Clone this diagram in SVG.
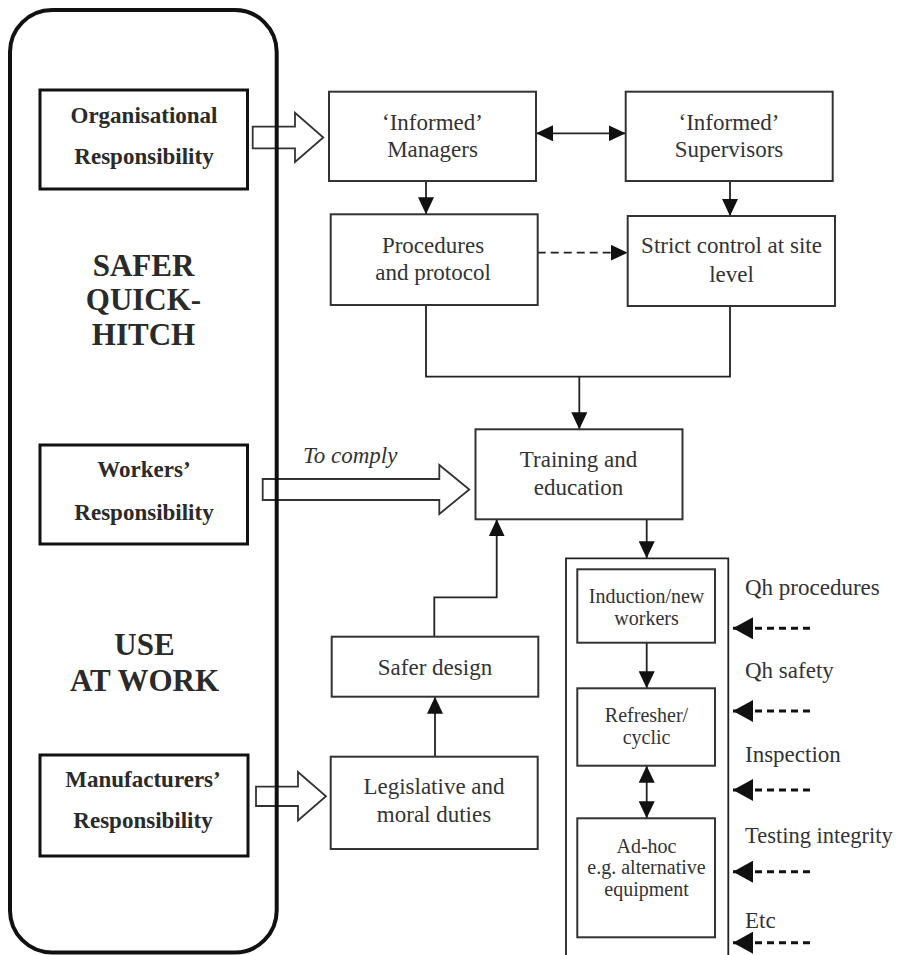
<svg xmlns="http://www.w3.org/2000/svg" width="905" height="955" viewBox="0 0 905 955">
<defs>
<style>
.box{fill:#fff;stroke:#333;stroke-width:2}
.lbox{fill:#fff;stroke:#111;stroke-width:3}
.t{font-family:"Liberation Serif","Times New Roman",serif;font-size:23px;fill:#333;text-anchor:middle}
.b{font-weight:bold;fill:#2a2a2a}
.big{font-size:31px}
.s{font-size:20px}
.r{text-anchor:start}
.i{font-style:italic;text-anchor:start}
.ln{fill:none;stroke:#222;stroke-width:1.8}
.dash{stroke-dasharray:8 5}
.dash2{fill:none;stroke:#111;stroke-width:3;stroke-dasharray:7 5}
.blk{fill:#fff;stroke:#333;stroke-width:1.8;stroke-linejoin:miter}
</style>
<marker id="ah" markerUnits="userSpaceOnUse" markerWidth="17" markerHeight="16" refX="17" refY="8" orient="auto-start-reverse">
<path d="M0,0 L17,8 L0,16 z" fill="#111"/>
</marker>
<marker id="ahb" markerUnits="userSpaceOnUse" markerWidth="20" markerHeight="22" refX="20" refY="11" orient="auto">
<path d="M0,0 L20,11 L0,22 z" fill="#111"/>
</marker>
</defs>
<rect width="905" height="955" fill="#fff"/>

<g id="connectors">
<path class="blk" d="M252.7,126.7 H295 V112.7 L323.3,137.5 L295,162 V148.3 H252.7 Z"/>
<path class="blk" d="M262.7,479 H439.3 V465 L469.3,489.5 L439.3,514 V500 H262.7 Z"/>
<path class="blk" d="M256,786.7 H298 V772 L326,796.3 L298,820.5 V806 H256 Z"/>
<line class="ln" x1="536" y1="133.3" x2="625.7" y2="133.3" marker-start="url(#ah)" marker-end="url(#ah)"/>
<line class="ln" x1="426" y1="181" x2="426" y2="214.3" marker-end="url(#ah)"/>
<line class="ln" x1="730" y1="181" x2="730" y2="216" marker-end="url(#ah)"/>
<line class="ln dash" x1="537.7" y1="252.7" x2="627.7" y2="252.7" marker-end="url(#ah)"/>
<path class="ln" d="M426,305 V376.7 H730 V306"/>
<line class="ln" x1="579.3" y1="376.7" x2="579.3" y2="429.3" marker-end="url(#ah)"/>
<line class="ln" x1="646.7" y1="519.3" x2="646.7" y2="558.3" marker-end="url(#ah)"/>
<path class="ln" d="M434.3,636.7 V597.3 H496.7 V519.3" marker-end="url(#ah)"/>
<line class="ln" x1="435" y1="756.7" x2="435" y2="696.7" marker-end="url(#ah)"/>
<line class="ln" x1="646.7" y1="642.7" x2="646.7" y2="688.3" marker-end="url(#ah)"/>
<line class="ln" x1="646.7" y1="765.7" x2="646.7" y2="818.3" marker-start="url(#ah)" marker-end="url(#ah)"/>
<line class="dash2" x1="810" y1="628.3" x2="733" y2="628.3" marker-end="url(#ahb)"/>
<line class="dash2" x1="810" y1="711" x2="733" y2="711" marker-end="url(#ahb)"/>
<line class="dash2" x1="810" y1="790" x2="733" y2="790" marker-end="url(#ahb)"/>
<line class="dash2" x1="810" y1="871.7" x2="733" y2="871.7" marker-end="url(#ahb)"/>
<line class="dash2" x1="810" y1="942.7" x2="733" y2="942.7" marker-end="url(#ahb)"/>
</g>

<g id="frame">
<rect x="10" y="10" width="266.7" height="942.5" rx="42" ry="42" fill="none" stroke="#111" stroke-width="4"/>
<text class="t b big" x="143.5" y="276">SAFER</text>
<text class="t b big" x="143.5" y="310">QUICK-</text>
<text class="t b big" x="143.5" y="345">HITCH</text>
<text class="t b big" x="144.5" y="655">USE</text>
<text class="t b big" x="144.5" y="690.7">AT WORK</text>
</g>

<g id="org">
<rect class="lbox" x="40" y="90" width="207.5" height="99"/>
<text class="t b" x="144" y="123">Organisational</text>
<text class="t b" x="144" y="164">Responsibility</text>
</g>
<g id="workers">
<rect class="lbox" x="40" y="445" width="207.5" height="99"/>
<text class="t b" x="144" y="477">Workers’</text>
<text class="t b" x="144" y="520">Responsibility</text>
</g>
<g id="manufacturers">
<rect class="lbox" x="40" y="755" width="208" height="101"/>
<text class="t b" x="143" y="787.3">Manufacturers’</text>
<text class="t b" x="143" y="828">Responsibility</text>
</g>

<g id="managers">
<rect class="box" x="329" y="91.7" width="207" height="89.3"/>
<text class="t" x="432.5" y="130">‘Informed’</text>
<text class="t" x="432.5" y="157">Managers</text>
</g>
<g id="supervisors">
<rect class="box" x="625.7" y="91.7" width="207" height="89.3"/>
<text class="t" x="729" y="130">‘Informed’</text>
<text class="t" x="729" y="157">Supervisors</text>
</g>
<g id="procedures">
<rect class="box" x="330.7" y="214.3" width="207" height="90.7"/>
<text class="t" x="433" y="252.7">Procedures</text>
<text class="t" x="433" y="280">and protocol</text>
</g>
<g id="strict">
<rect class="box" x="627.7" y="216" width="207.3" height="90"/>
<text class="t" x="731.5" y="253">Strict control at site</text>
<text class="t" x="731.5" y="281.7">level</text>
</g>
<g id="training">
<rect class="box" x="475.5" y="429.3" width="207" height="90"/>
<text class="t" x="578.5" y="467.3">Training and</text>
<text class="t" x="578.5" y="495">education</text>
</g>
<g id="tocomply">
<text class="t i" x="303" y="463">To comply</text>
</g>
<g id="saferdesign">
<rect class="box" x="331.7" y="636.7" width="206.6" height="60"/>
<text class="t" x="435" y="675">Safer design</text>
</g>
<g id="legislative">
<rect class="box" x="330.7" y="756.7" width="207" height="92.3"/>
<text class="t" x="434" y="794.3">Legislative and</text>
<text class="t" x="434" y="821.7">moral duties</text>
</g>

<g id="container">
<path class="ln" d="M566,960 V558.3 H728.3 V960" stroke-width="2"/>
</g>
<g id="induction">
<rect class="box" x="577.3" y="569.3" width="137.7" height="73.4"/>
<text class="t s" x="646.5" y="603.3">Induction/new</text>
<text class="t s" x="646.5" y="625">workers</text>
</g>
<g id="refresher">
<rect class="box" x="577.3" y="688.3" width="137.7" height="77.4"/>
<text class="t s" x="646.5" y="721.5">Refresher/</text>
<text class="t s" x="646.5" y="743.5">cyclic</text>
</g>
<g id="adhoc">
<rect class="box" x="577.3" y="818.3" width="137.7" height="119"/>
<text class="t s" x="646.5" y="852.7">Ad-hoc</text>
<text class="t s" x="646.5" y="874.3">e.g. alternative</text>
<text class="t s" x="646.5" y="896">equipment</text>
</g>

<g id="labels">
<text class="t r" x="745" y="595">Qh procedures</text>
<text class="t r" x="745" y="678.3">Qh safety</text>
<text class="t r" x="745" y="761.7">Inspection</text>
<text class="t r" x="745" y="843.3" style="font-size:22.5px">Testing integrity</text>
<text class="t r" x="745" y="928.3">Etc</text>
</g>
</svg>
